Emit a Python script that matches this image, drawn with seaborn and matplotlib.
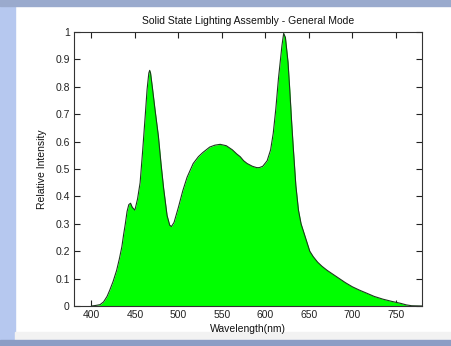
import numpy as np
import pandas as pd
import seaborn as sns
import matplotlib.pyplot as plt
from matplotlib.patches import Rectangle

# spectre (nm, intensité relative)
longueur_onde = [400, 405, 410, 414, 418, 421, 425, 429, 432, 435, 437, 439, 441, 443, 445, 447, 450,
                 453, 456, 459, 462, 464, 466, 467, 468, 470, 473, 477, 480, 483, 487, 490, 492, 495,
                 500, 505, 510, 517, 523, 528, 536, 542, 548, 555, 562, 567, 571, 575, 579, 585, 590,
                 593, 597, 602, 606, 609, 612, 615, 617, 619, 621, 623, 626, 628, 630, 632, 635, 638,
                 641, 645, 648, 651, 655, 660, 665, 671, 678, 685, 692, 700, 708, 717, 725, 735, 745,
                 755, 762, 768, 780]
intensite = [0.0, 0.002, 0.005, 0.015, 0.035, 0.057, 0.09, 0.13, 0.17, 0.216, 0.26, 0.30, 0.345, 0.37,
             0.375, 0.36, 0.35, 0.39, 0.45, 0.57, 0.70, 0.79, 0.85, 0.86, 0.85, 0.80, 0.72, 0.62, 0.52,
             0.43, 0.33, 0.295, 0.29, 0.305, 0.36, 0.42, 0.47, 0.52, 0.545, 0.56, 0.58, 0.587, 0.59,
             0.585, 0.57, 0.555, 0.545, 0.53, 0.52, 0.51, 0.505, 0.505, 0.51, 0.53, 0.57, 0.63, 0.72,
             0.83, 0.89, 0.95, 0.995, 0.98, 0.89, 0.79, 0.68, 0.58, 0.44, 0.35, 0.30, 0.26, 0.23, 0.20,
             0.18, 0.16, 0.145, 0.13, 0.115, 0.10, 0.085, 0.07, 0.058, 0.046, 0.035, 0.025, 0.017,
             0.01, 0.004, 0.001, 0.0]

xticks = [400, 450, 500, 550, 600, 650, 700, 750]
yticks = [0, 0.1, 0.2, 0.3, 0.4, 0.5, 0.6, 0.7, 0.8, 0.9, 1]
ytick_labels = ["0", "0.1", "0.2", "0.3", "0.4", "0.5", "0.6", "0.7", "0.8", "0.9", "1"]

df = pd.DataFrame({"nm": longueur_onde, "val": intensite})

sns.set_style("ticks")
plt.rcParams["font.family"] = ["Liberation Sans", "DejaVu Sans"]

fig = plt.figure(figsize=(4.51, 3.46), dpi=100)
fig.patch.set_facecolor("white")

# cadre bleu de la capture (diapo)
fig.patches.append(Rectangle((0, 0), 15 / 451, 1, transform=fig.transFigure,
                             color="#b6c8ef", zorder=-1))
fig.patches.append(Rectangle((0, 1 - 6 / 346), 1, 6 / 346, transform=fig.transFigure,
                             color="#9aaacd", zorder=-1))
fig.patches.append(Rectangle((15 / 451, 6 / 346), 1 - 15 / 451, 8 / 346, transform=fig.transFigure,
                             color="#f2f2f2", zorder=-1))
fig.patches.append(Rectangle((0, 0), 1, 6 / 346, transform=fig.transFigure,
                             color="#8c9dc5", zorder=-1))

ax = fig.add_axes([74 / 451, 1 - 306 / 346, 348 / 451, 274 / 346])
ax.fill_between(df["nm"], df["val"], 0, color="#00ff00", linewidth=0)
sns.lineplot(data=df, x="nm", y="val", ax=ax, color="#1c3a1c", linewidth=0.8)

ax.set_xlim(380, 780)
ax.set_ylim(0, 1)
ax.set_xticks(xticks)
ax.set_yticks(yticks)
ax.set_yticklabels(ytick_labels)
ax.tick_params(direction="in", length=4, width=0.8, labelsize=7.5, colors="#222222",
               top=True, right=True, pad=3)
for s in ax.spines.values():
    s.set_color("#333333")
    s.set_linewidth(0.8)

ax.set_title("Solid State Lighting Assembly - General Mode", fontsize=7.5, pad=6, color="#111111")
ax.set_xlabel("Wavelength(nm)", fontsize=7.5, labelpad=3, color="#111111")
ax.set_ylabel("Relative Intensity", fontsize=7.5, labelpad=6, color="#111111")

fig.savefig("out.png", dpi=100)
